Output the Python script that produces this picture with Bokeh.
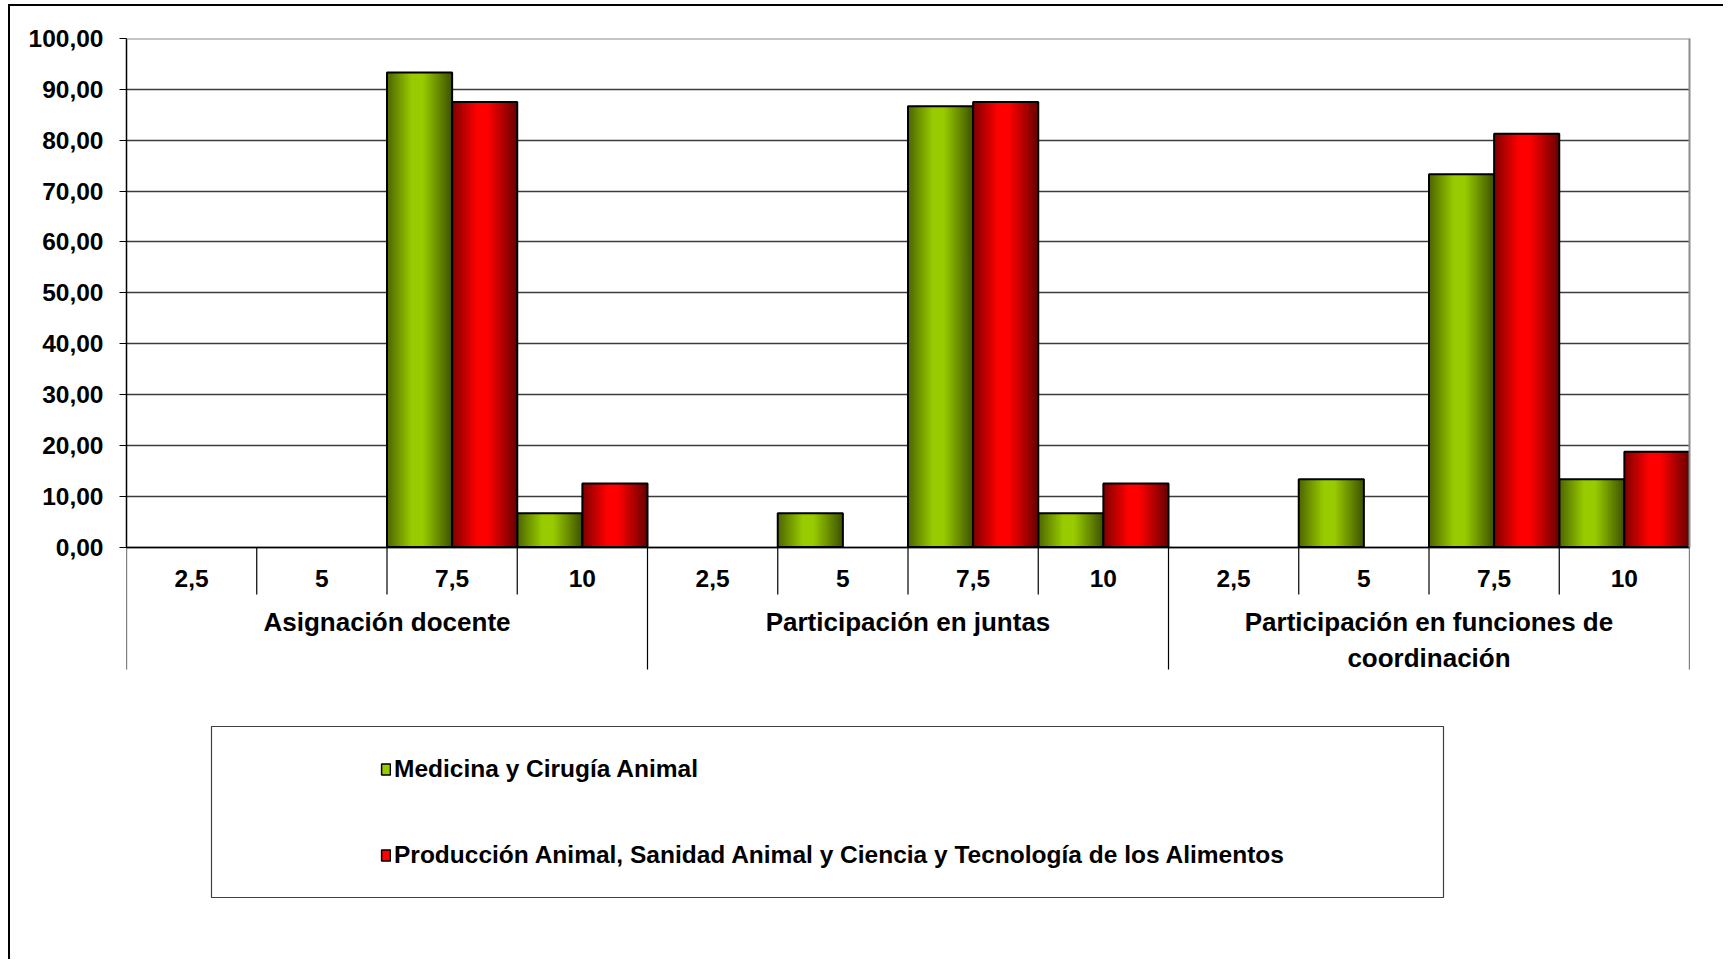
from bokeh.plotting import figure
from bokeh.models import (FactorRange, Range1d, FixedTicker, LinearAxis, ColumnDataSource,
                          Legend, LegendItem, Span)
from bokeh.transform import dodge
from bokeh.embed import file_html
from bokeh.resources import INLINE

# ---------------- data ----------------
groups = ["Asignación docente", "Participación en juntas",
          "Participación en funciones de\ncoordinación"]
scores = ["2,5", "5", "7,5", "10"]
series_names = ["Medicina y Cirugía Animal",
                "Producción Animal, Sanidad Animal y Ciencia y Tecnología de los Alimentos"]
medicina = [0, 0, 93.33, 6.67, 0, 6.67, 86.67, 6.67, 0, 13.33, 73.33, 13.33]
produccion = [0, 0, 87.5, 12.5, 0, 0, 87.5, 12.5, 0, 0, 81.25, 18.75]
y_ticks = [0, 10, 20, 30, 40, 50, 60, 70, 80, 90, 100]
y_tick_labels = ["0,00", "10,00", "20,00", "30,00", "40,00", "50,00",
                 "60,00", "70,00", "80,00", "90,00", "100,00"]

# ---------------- geometry (page px) ----------------
FONT = "Liberation Sans"
W, H = 1715, 955
OX, OY = 10, 6                       # canvas origin on page (after margin + border)
PLOT_L, PLOT_R = 126, 1689
Y100, Y0 = 38, 546.6
ppu = (Y0 - Y100) / 100.0
y_bottom = -((OY + H) - Y0) / ppu
nfac = len(groups) * len(scores)
ux = (PLOT_R - PLOT_L) / nfac


def X(px):
    return (px - PLOT_L) / ux


def Y(py):
    return (Y0 - py) / ppu


factors = [(g, s) for g in groups for s in scores]

p = figure(width=W, height=H, output_backend="svg", toolbar_location=None,
           x_range=FactorRange(*factors, group_padding=0, factor_padding=0, range_padding=0),
           y_range=Range1d(y_bottom, 100),
           min_border_left=PLOT_L - OX, min_border_right=(OX + W) - PLOT_R,
           min_border_top=int(round(Y100 - OY)), min_border_bottom=0)
p.styles = {"border-left": "2px solid black", "border-top": "2px solid black",
            "margin-left": "8px", "margin-top": "4px"}
p.outline_line_color = None
p.background_fill_color = "white"
p.border_fill_color = "white"
p.xgrid.grid_line_color = None

# y axis
ya = p.yaxis[0]
ya.bounds = (0, 100)
ya.ticker = FixedTicker(ticks=y_ticks)
ya.major_label_overrides = {t: l for t, l in zip(y_ticks, y_tick_labels)}
ya.axis_line_color = "black"
ya.axis_line_width = 1.5
ya.major_tick_line_color = "black"
ya.major_tick_out = 7
ya.major_tick_in = 0
ya.minor_tick_line_color = None
ya.major_label_text_font = FONT
ya.major_label_text_font_style = "bold"
ya.major_label_text_font_size = "24.5px"
ya.major_label_text_color = "black"
ya.major_label_standoff = 16

p.ygrid.bounds = (0, 100)
p.ygrid.ticker = FixedTicker(ticks=y_ticks[:-1])
p.ygrid.grid_line_color = "#3c3c3c"
p.ygrid.grid_line_width = 1.4

p.add_layout(Span(location=100, dimension="width", line_color="#8c8c8c", line_width=2))
ra = LinearAxis(bounds=(0, 100), ticker=FixedTicker(ticks=[]), axis_line_color="#8c8c8c",
                axis_line_width=2, major_label_text_font_size="0px",
                major_tick_line_color=None, minor_tick_line_color=None)
p.add_layout(ra, "right")

# x axis (categorical) at y = 0
xa = p.xaxis[0]
xa.fixed_location = 0
xa.axis_line_color = "black"
xa.axis_line_width = 1.5
xa.major_tick_line_color = None
xa.minor_tick_line_color = None
xa.major_label_text_font = FONT
xa.major_label_text_font_style = "bold"
xa.major_label_text_font_size = "24.5px"
xa.major_label_text_color = "black"
xa.major_label_standoff = 17
xa.group_text_font = FONT
xa.group_text_font_style = "bold"
xa.group_text_font_size = "26px"
xa.group_text_color = "black"
xa.separator_line_color = None

# separators below the axis
sub_x = [i for i in range(1, nfac) if i % len(scores) != 0]
grp_x = [i for i in range(0, nfac + 1) if i % len(scores) == 0]
p.segment(x0=sub_x, y0=[0] * len(sub_x), x1=sub_x, y1=[Y(594)] * len(sub_x),
          line_color="black", line_width=1.2)
p.segment(x0=grp_x, y0=[0] * len(grp_x), x1=grp_x, y1=[Y(669)] * len(grp_x),
          line_color="black", line_width=1.2)

# legend frame
p.quad(left=[X(211)], right=[X(1443)], top=[Y(726)], bottom=[Y(897)],
       fill_color="white", line_color="#404040", line_width=1.2)


# ---------------- bars with dark-light-dark gradient ----------------
def shade(base, t):
    if t < 0.38:
        f = 0.5 + 0.5 * (t / 0.38)
    elif t < 0.55:
        f = 1.0
    else:
        f = 1.0 - 0.6 * ((t - 0.55) / 0.45)
    return "#%02x%02x%02x" % tuple(int(c * f) for c in base)


bases = [(153, 204, 0), (255, 0, 0)]
base_hex = ["#99cc00", "#ff0000"]
offsets = [-0.25, 0.25]
NSTRIP = 40
legend_items = []
for vals, base, bhex, off, name in zip([medicina, produccion], bases, base_hex, offsets, series_names):
    xs = [f for f, v in zip(factors, vals) if v > 0]
    tops = [v for v in vals if v > 0]
    src = ColumnDataSource(dict(x=xs, top=tops))
    sw = 0.5 / NSTRIP
    for k in range(NSTRIP):
        t = (k + 0.5) / NSTRIP
        o = off - 0.25 + (k + 0.5) * sw
        wk = sw * 2.0 if k < NSTRIP - 1 else sw
        ok = o + sw * 0.5 if k < NSTRIP - 1 else o
        p.vbar(x=dodge("x", ok, range=p.x_range), top="top", bottom=0, width=wk,
               fill_color=shade(base, t), line_color=None, source=src)
    p.vbar(x=dodge("x", off, range=p.x_range), top="top", bottom=0, width=0.5,
           fill_color=None, line_color="black", line_width=2, source=src)
    lr = p.vbar(x=dodge("x", off, range=p.x_range), top="top", bottom=0, width=0.5,
                fill_color=bhex, line_color="black", line_width=1.5, source=src, visible=False)
    legend_items.append(LegendItem(label=name, renderers=[lr]))

item_h = 29
legend = Legend(items=legend_items,
                location=(380 - PLOT_L, int(round((OY + H) - (854 + item_h / 2)))),
                border_line_color=None, background_fill_alpha=0, padding=0, margin=0,
                spacing=int(round(87.4 - item_h)), label_height=24, glyph_width=11, glyph_height=14,
                label_standoff=3, label_text_font=FONT, label_text_font_style="bold",
                label_text_font_size="24.5px", label_text_color="black",
                label_text_baseline="middle")
p.add_layout(legend)

open("out.html", "w").write(file_html(p, INLINE))
